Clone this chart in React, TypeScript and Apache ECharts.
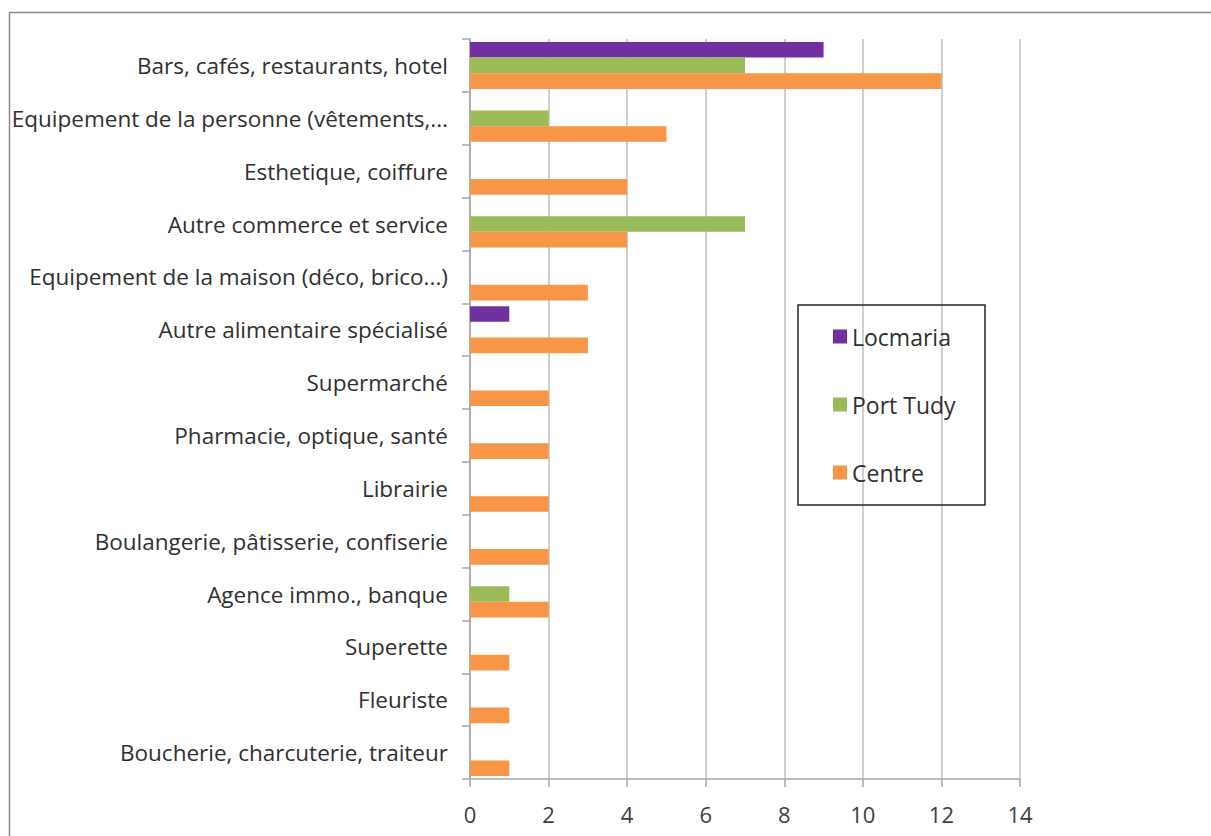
import React, { useEffect, useRef } from "react";
import * as echarts from "echarts";

const categories = [
  "Bars, cafés, restaurants, hotel",
  "Equipement de la personne (vêtements,...",
  "Esthetique, coiffure",
  "Autre commerce et service",
  "Equipement de la maison (déco, brico...)",
  "Autre alimentaire spécialisé",
  "Supermarché",
  "Pharmacie, optique, santé",
  "Librairie",
  "Boulangerie, pâtisserie, confiserie",
  "Agence immo., banque",
  "Superette",
  "Fleuriste",
  "Boucherie, charcuterie, traiteur",
];

const locmaria = [9, 0, 0, 0, 0, 1, 0, 0, 0, 0, 0, 0, 0, 0];
const portTudy = [7, 2, 0, 7, 0, 0, 0, 0, 0, 0, 1, 0, 0, 0];
const centre = [12, 5, 4, 4, 3, 3, 2, 2, 2, 2, 2, 1, 1, 1];

const FONT = "Open Sans";

export default function App() {
  const ref = useRef<HTMLDivElement>(null);
  useEffect(() => {
    const chart = echarts.init(ref.current!, null, { renderer: "svg" });
    const mk = (name: string, data: number[], color: string) => ({
      name,
      type: "bar",
      data: data.map((v) => (v === 0 ? null : v)),
      itemStyle: { color },
      barGap: "0%",
      barCategoryGap: "11%",
    });
    chart.setOption({
      animation: false,
      backgroundColor: "#ffffff",
      textStyle: { fontFamily: FONT },
      grid: { left: 470, right: 191, top: 39, bottom: 57 },
      xAxis: {
        type: "value",
        min: 0,
        max: 14,
        interval: 2,
        axisLine: { show: true, lineStyle: { color: "#a6a6a6", width: 1.5 } },
        axisTick: { show: true, length: 8, lineStyle: { color: "#a6a6a6", width: 1.5 } },
        axisLabel: { color: "#404040", fontSize: 22, fontFamily: FONT, margin: 24 },
        splitLine: { show: true, lineStyle: { color: "#bfbfbf", width: 1.5 } },
      },
      yAxis: {
        type: "category",
        data: categories,
        inverse: true,
        axisLine: { show: true, lineStyle: { color: "#a6a6a6", width: 1.5 } },
        axisTick: { show: true, length: 8, lineStyle: { color: "#a6a6a6", width: 1.5 } },
        axisLabel: { color: "#303030", fontSize: 22.5, fontFamily: FONT, margin: 22 },
      },
      legend: {
        orient: "vertical",
        left: 833,
        top: 325,
        itemWidth: 14,
        itemHeight: 14,
        itemGap: 45,
        icon: "rect",
        padding: 0,
        textStyle: { color: "#303030", fontSize: 23, fontFamily: FONT, padding: [0, 0, 0, 0] },
        data: ["Locmaria", "Port Tudy", "Centre"],
      },
      graphic: [
        {
          type: "rect",
          shape: { x: 9.5, y: 12.5, width: 1400, height: 1000 },
          style: { fill: "none", stroke: "#8c8c8c", lineWidth: 1.5 },
          silent: true,
        },
        {
          type: "rect",
          shape: { x: 798, y: 305, width: 187, height: 200 },
          style: { fill: "none", stroke: "#262626", lineWidth: 1.5 },
          silent: true,
          z: 10,
        },
      ],
      series: [
        mk("Locmaria", locmaria, "#7030a0"),
        mk("Port Tudy", portTudy, "#9bbb59"),
        mk("Centre", centre, "#f79646"),
      ],
    });
    return () => chart.dispose();
  }, []);
  return (
    <div
      ref={ref}
      style={{ position: "fixed", left: 0, top: 0, width: 1211, height: 836 }}
    />
  );
}
